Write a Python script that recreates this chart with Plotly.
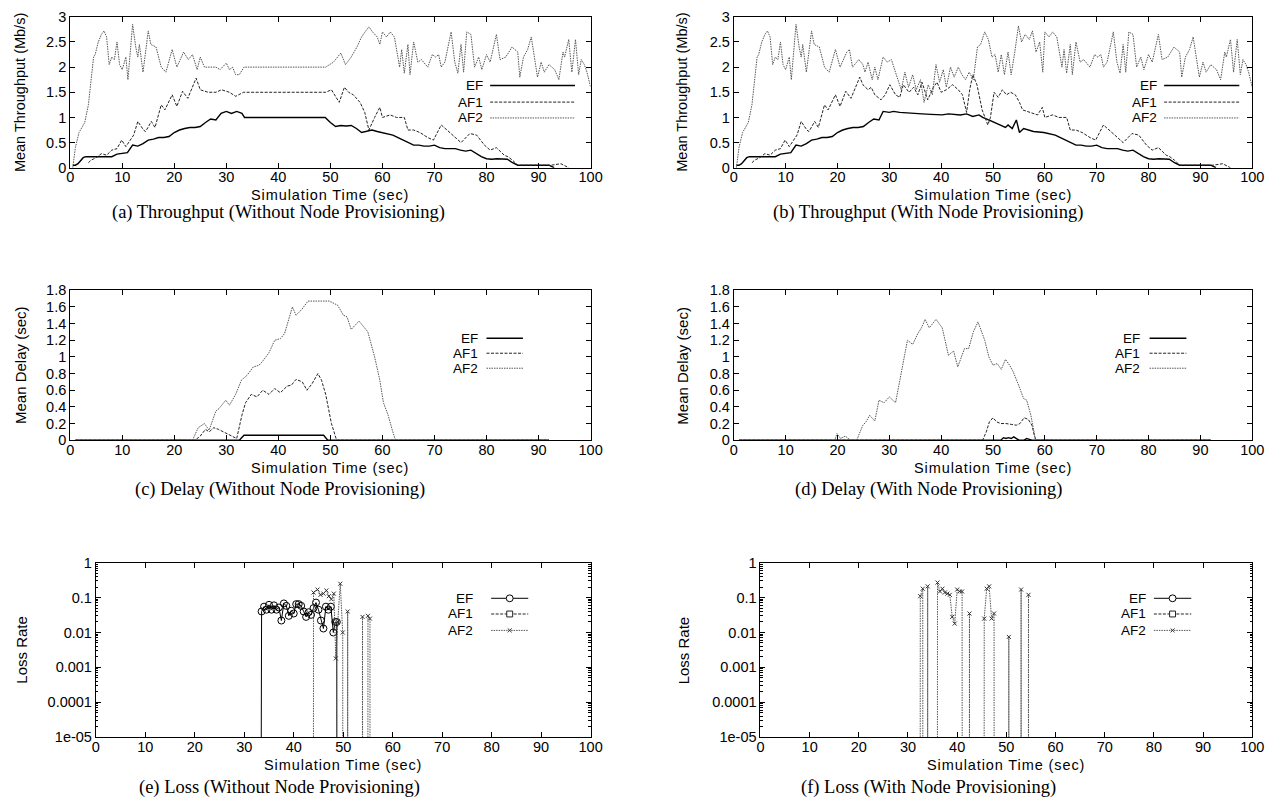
import plotly.graph_objects as go

W, H = 1284, 802

# ---------------- DATA ----------------
SERIES = ["EF", "AF1", "AF2"]
X_TICKS = list(range(0, 101, 10))
LOSS_TICKVALS = [1e-5, 1e-4, 1e-3, 1e-2, 1e-1, 1]
LOSS_TICKTEXT = ["1e-05", "0.0001", "0.001", "0.01", "0.1", "1"]

# (a) Throughput, without node provisioning  (time sec, Mb/s)
A_EF = [(0.5,0.05),(1,0.05),(1.5,0.08),(2,0.15),(2.5,0.2),(3,0.22),(4,0.22),(5,0.22),(6,0.22),(7,0.22),(8,0.22),
        (9,0.27),(10,0.28),(11,0.3),(12,0.45),(13,0.43),(14,0.48),(15,0.55),(16,0.57),(17,0.6),(18,0.6),(19,0.62),
        (20,0.7),(21,0.75),(22,0.78),(23,0.8),(24,0.8),(25,0.82),(26,0.9),(27,0.97),(28,0.95),(29,1.08),(30,1.12),
        (31,1.08),(32,1.12),(33,1.08),(33.5,1.0),(40,1.0),(49,1.0),(50,0.9),(51,0.82),(52,0.84),(53,0.83),(54,0.84),
        (55,0.78),(56,0.7),(57,0.72),(58,0.75),(59,0.72),(60,0.7),(61,0.68),(62,0.65),(63,0.6),(64,0.55),(65,0.5),
        (66,0.45),(67,0.45),(68,0.43),(69,0.43),(70,0.45),(71,0.4),(72,0.38),(73,0.38),(74,0.38),(75,0.35),(76,0.33),
        (77,0.35),(78,0.28),(79,0.22),(80,0.18),(81,0.17),(82,0.18),(83,0.18),(84,0.17),(85,0.1),(86,0.05),(87,0.05),
        (88,0.05),(89,0.05),(90,0.05),(91,0.05),(92,0.05),(93,0.0)]
A_AF1 = [(3.5,0.1),(4,0.15),(5,0.2),(6,0.28),(7,0.25),(8,0.35),(9,0.38),(9.9,0.55),(10.7,0.42),(12.2,0.65),(13,0.92),
         (14.1,0.75),(14.5,0.72),(15.6,0.92),(16.3,0.8),(17.5,1.25),(18.2,1.15),(19.6,1.45),(20.5,1.22),(21.6,1.52),
         (22.6,1.38),(23.1,1.5),(24.2,1.78),(25,1.55),(26.5,1.5),(28,1.5),(29.1,1.55),(30.6,1.5),(31.8,1.42),(33.3,1.5),
         (49.1,1.5),(50.2,1.55),(51.7,1.3),(52.7,1.6),(53.5,1.5),(54.4,1.45),(55.7,1.3),(56.6,1.1),(57.4,0.75),
         (58.5,1.0),(59.5,1.2),(60,1.0),(61.5,1.05),(62.7,1.0),(64.2,1.0),(64.9,0.75),(66,0.75),(67.2,0.7),(68.7,0.6),
         (69.8,0.55),(71.3,0.85),(72.4,0.75),(73.5,0.65),(75.1,0.5),(76.8,0.68),(78.1,0.65),(79.6,0.45),(80.7,0.35),
         (81.9,0.4),(83.4,0.25),(84.1,0.22),(85,0.15),(86,0.05),(88,0.05),(92.4,0.05),(94.3,0.08),(95,0.05),(95.8,0.0)]
A_AF2 = [(0.5,0.0),(1.0,0.4),(1.7,0.7),(2.8,0.9),(3.5,1.25),(4.5,2.2),(4.8,2.25),(5.4,2.5),(6.0,2.65),(6.5,2.72),
         (7.0,2.6),(7.5,2.05),(8.0,2.2),(8.5,2.15),(9.0,2.5),(9.5,2.05),(10.0,1.95),(10.7,2.2),(11.1,1.75),(12.0,2.85),
         (12.6,2.4),(13.0,2.2),(13.3,2.45),(14.0,1.9),(15.0,2.72),(15.5,2.45),(16.5,2.4),(17.5,2.0),(18.4,1.9),
         (19.6,2.35),(20.5,2.0),(21.8,2.3),(22.7,2.15),(23.5,2.25),(24.4,1.95),(25.0,2.2),(25.8,2.0),(27.0,2.0),
         (28.0,2.0),(28.8,1.95),(30.0,2.08),(30.6,1.95),(31.2,2.0),(31.8,1.85),(32.5,1.85),(33.4,2.0),(49.1,2.0),
         (50.6,2.1),(52.0,2.28),(52.9,2.05),(54.0,2.2),(55.1,2.4),(56.0,2.6),(56.8,2.72),(57.4,2.8),(58.1,2.7),
         (59.0,2.6),(59.5,2.45),(60.0,2.7),(60.8,2.6),(61.5,2.7),(62.3,2.6),(63.3,2.0),(63.7,2.35),(64.2,1.88),
         (64.9,2.45),(65.3,1.85),(66.0,2.5),(66.8,2.1),(67.5,2.15),(68.7,2.0),(69.6,2.25),(70.2,2.2),(70.8,2.25),
         (71.3,2.0),(72.0,2.1),(73.2,2.7),(73.9,2.1),(74.5,1.88),(75.1,2.45),(75.6,1.9),(76.2,2.7),(77.0,2.65),
         (77.7,2.0),(78.5,2.2),(79.1,1.95),(80.0,2.25),(80.7,2.1),(81.9,2.65),(82.6,2.15),(83.7,2.2),(84.9,2.4),
         (86.0,2.3),(86.4,1.8),(87.1,2.2),(87.9,2.35),(88.6,2.6),(89.2,2.2),(89.8,1.8),(90.5,2.1),(91.1,1.9),
         (92.0,2.05),(93.1,1.95),(93.9,1.75),(94.7,2.3),(95.0,2.2),(95.8,2.55),(96.4,1.9),(97.1,2.55),(97.7,1.85),
         (98.2,2.15),(98.8,2.05),(99.3,1.9),(100.0,1.6)]

# (b) Throughput, with node provisioning
B_EF = [(0.5,0.05),(1,0.05),(1.5,0.08),(2,0.15),(2.5,0.2),(3,0.22),(4,0.22),(5,0.22),(6,0.22),(7,0.22),(8,0.22),
        (9,0.27),(10,0.28),(11,0.3),(12,0.45),(13,0.43),(14,0.48),(15,0.55),(16,0.57),(17,0.6),(18,0.6),(19,0.62),
        (20,0.7),(21,0.75),(22,0.78),(23,0.8),(24,0.8),(25,0.82),(26,0.9),(27,0.97),(28,0.95),(28.8,1.12),(30,1.1),
        (30.8,1.12),(32,1.1),(34,1.08),(36.3,1.07),(38,1.06),(40.2,1.05),(41.4,1.07),(43.7,1.05),(44.9,1.07),
        (46.1,1.02),(47.3,1.05),(48,1.0),(49.6,0.93),(51.2,0.85),(52.4,0.8),(52.9,0.85),(53.7,0.78),(54.5,0.95),
        (55.1,0.7),(55.9,0.78),(57.8,0.72),(59.8,0.7),(61,0.68),(62,0.65),(63,0.6),(64,0.55),(65,0.5),
        (66,0.45),(67,0.45),(68,0.43),(69,0.43),(70,0.45),(71,0.4),(72,0.38),(73,0.38),(74,0.38),(75,0.35),(76,0.33),
        (77,0.35),(78,0.28),(79,0.22),(80,0.18),(81,0.17),(82,0.18),(83,0.18),(84,0.17),(85,0.1),(86,0.05),(87,0.05),
        (88,0.05),(89,0.05),(90,0.05),(91,0.05),(92,0.05),(93,0.0)]
B_AF1 = [(3.5,0.1),(4,0.15),(5,0.2),(6,0.28),(7,0.25),(8,0.35),(9,0.38),(9.9,0.55),(10.7,0.42),(12.2,0.65),(13,0.92),
         (14.1,0.75),(14.5,0.72),(15.6,0.92),(16.3,0.8),(17.5,1.25),(18.2,1.15),(19.6,1.45),(20.5,1.22),(21.6,1.52),
         (22.6,1.38),(23.1,1.5),(24.3,1.8),(24.9,1.65),(25.9,1.55),(26.5,1.6),(27.2,1.45),(28.4,1.35),(29.2,1.45),
         (30.1,1.65),(31.2,1.45),(32.0,1.4),(32.7,1.65),(33.8,1.5),(34.7,1.6),(35.5,1.45),(36.3,1.7),(37.4,1.35),
         (38.5,1.6),(39.2,1.7),(40.0,1.5),(41.0,1.55),(42.2,1.65),(43.3,1.55),(44.1,1.45),(44.9,1.1),(45.5,1.55),
         (46.1,1.85),(46.9,1.65),(47.9,1.15),(49.0,0.85),(49.5,1.0),(50.2,1.5),(51.0,1.4),(51.8,1.55),(52.6,1.45),
         (53.4,1.5),(54.3,1.45),(55.1,1.3),(55.7,1.15),(57.1,1.1),(58.6,1.05),(59.5,1.2),(60,1.0),(61.5,1.05),
         (62.7,1.0),(64.2,1.0),(64.9,0.75),(66,0.75),(67.2,0.7),(68.7,0.6),(69.8,0.55),(71.3,0.85),(72.4,0.75),
         (73.5,0.65),(75.1,0.5),(76.8,0.68),(78.1,0.65),(79.6,0.45),(80.7,0.35),(81.9,0.4),(83.4,0.25),(84.1,0.22),
         (85,0.15),(86,0.05),(88,0.05),(92.4,0.05),(94.3,0.08),(95,0.05),(95.8,0.0)]
B_AF2 = [(0.5,0.0),(1.0,0.4),(1.7,0.7),(2.8,0.9),(3.5,1.25),(4.5,2.2),(4.8,2.25),(5.4,2.5),(6.0,2.65),(6.5,2.72),
         (7.0,2.6),(7.5,2.05),(8.0,2.2),(8.5,2.15),(9.0,2.5),(9.5,2.05),(10.0,1.95),(10.7,2.2),(11.1,1.75),(12.0,2.85),
         (12.6,2.4),(13.0,2.2),(13.3,2.45),(14.0,1.9),(15.0,2.72),(15.5,2.45),(16.5,2.4),(17.5,2.0),(18.4,1.9),
         (19.6,2.35),(20.5,2.0),(21.8,2.3),(22.3,2.35),(22.9,2.0),(24.1,2.15),(24.9,2.05),(25.3,1.9),(25.9,2.1),
         (26.7,1.75),(27.2,2.0),(27.8,1.75),(28.8,2.2),(29.6,2.1),(30.4,2.15),(31.5,1.8),(32.3,1.55),(33.0,1.9),
         (33.7,1.6),(34.5,1.85),(35.2,1.55),(36.0,1.75),(36.7,1.3),(37.5,1.65),(38.3,1.45),(39.0,2.05),(39.7,1.7),
         (40.4,1.95),(41.0,1.6),(41.8,2.0),(42.5,1.8),(43.3,2.0),(44.0,1.85),(44.7,1.75),(45.4,1.9),(46.2,1.75),
         (47.0,2.4),(47.6,2.45),(48.4,2.7),(49.1,2.55),(49.8,2.2),(50.4,2.25),(51.0,1.9),(51.6,2.25),(52.2,1.85),
         (52.9,2.3),(53.5,1.85),(54.2,2.3),(54.9,2.82),(55.5,2.5),(56.2,2.65),(57.0,2.55),(57.6,2.72),(58.3,2.3),
         (59.0,2.5),(59.6,1.9),(60.0,2.7),(60.8,2.6),(61.5,2.7),(62.3,2.6),(63.3,2.0),(63.7,2.35),(64.2,1.88),
         (64.9,2.45),(65.3,1.85),(66.0,2.5),(66.8,2.1),(67.5,2.15),(68.7,2.0),(69.6,2.25),(70.2,2.2),(70.8,2.25),
         (71.3,2.0),(72.0,2.1),(73.2,2.7),(73.9,2.1),(74.5,1.88),(75.1,2.45),(75.6,1.9),(76.2,2.7),(77.0,2.65),
         (77.7,2.0),(78.5,2.2),(79.1,1.95),(80.0,2.25),(80.7,2.1),(81.9,2.65),(82.6,2.15),(83.7,2.2),(84.9,2.4),
         (86.0,2.3),(86.4,1.8),(87.1,2.2),(87.9,2.35),(88.6,2.6),(89.2,2.2),(89.8,1.8),(90.5,2.1),(91.1,1.9),
         (92.0,2.05),(93.1,1.95),(93.9,1.75),(94.7,2.3),(95.0,2.2),(95.8,2.55),(96.4,1.9),(97.1,2.55),(97.7,1.85),
         (98.2,2.15),(98.8,2.05),(99.3,1.9),(100.0,1.6)]

# (c) Delay, without node provisioning (sec)
C_EF = [(1,0),(32.5,0),(33.4,0.06),(48.7,0.06),(49.5,0),(92,0)]
C_AF1 = [(1,0),(24,0),(25,0.05),(26,0.13),(26.7,0.1),(27.6,0.15),(28.5,0.13),(29.5,0.1),(31,0.05),(32,0.02),
         (33,0.3),(33.7,0.45),(34.8,0.55),(35.9,0.52),(37,0.6),(38.2,0.55),(39.3,0.62),(40.4,0.57),(41.7,0.65),
         (42.5,0.66),(43.4,0.73),(44.6,0.7),(45.5,0.6),(46.5,0.68),(47.6,0.8),(48.3,0.72),(49.1,0.55),(50.2,0.2),
         (51.2,0.0),(92,0)]
C_AF2 = [(1,0),(19,0),(19.5,0.01),(20,0.0),(21,0.01),(22,0.005),(23.5,0.0),(24.6,0.15),(25.8,0.2),(26.7,0.12),
         (28.0,0.35),(28.6,0.38),(29.9,0.48),(30.6,0.42),(31.8,0.55),(32.9,0.72),(34.0,0.78),(35.2,0.88),(36.3,0.9),
         (37.0,0.95),(38.2,1.05),(39.3,1.2),(40.4,1.22),(41.2,1.28),(42.7,1.6),(43.4,1.5),(44.5,1.57),(45.7,1.67),
         (49.8,1.67),(51.4,1.62),(52.5,1.5),(53.2,1.48),(54.0,1.33),(55.5,1.43),(56.6,1.35),(57.2,1.3),(58.5,1.0),
         (59.5,0.72),(60.2,0.45),(61.1,0.3),(61.9,0.12),(62.5,0.0),(92,0)]

# (d) Delay, with node provisioning (sec)
D_EF = [(1,0),(51.5,0),(52,0.03),(52.5,0.02),(53,0.03),(53.5,0.02),(54,0.04),(54.5,0.02),(55,0),(56,0.0),
        (56.5,0.02),(57,0.01),(57.5,0),(92,0)]
D_AF1 = [(1,0),(48,0),(48.7,0.1),(49.3,0.22),(50,0.27),(50.7,0.22),(51.5,0.2),(52.5,0.2),(53.5,0.19),(54.5,0.18),
         (55.2,0.2),(56,0.27),(56.8,0.25),(57.5,0.18),(58,0.05),(58.3,0),(92,0)]
D_AF2 = [(1,0),(19.5,0),(19.9,0.08),(20.6,0.02),(21.5,0.05),(22.5,0.0),(23.7,0.0),(24.9,0.18),(25.5,0.22),
         (26.2,0.3),(27.2,0.23),(28,0.48),(29,0.45),(30,0.52),(31.2,0.45),(32.3,0.8),(33.5,1.2),(34.5,1.15),
         (35.5,1.28),(36.2,1.35),(36.9,1.45),(37.7,1.35),(39,1.45),(40.2,1.35),(41.4,1.02),(42.4,1.07),(43.2,0.88),
         (44.5,1.1),(45.3,1.1),(46.2,1.3),(47.1,1.42),(48.4,1.2),(49.2,1.0),(50,0.9),(50.8,0.92),(51.6,0.85),
         (52.4,0.97),(53.2,0.9),(53.9,0.82),(55,0.65),(55.9,0.5),(56.5,0.48),(57.3,0.3),(58.2,0.0),(92,0)]

# (e) Loss rate, without node provisioning (0 = no loss)
E_EF = [(33.0,0),(33.5,0.04),(34.0,0.055),(34.5,0.045),(35.0,0.062),(35.5,0.045),(36.0,0.06),(36.5,0.045),
        (37.0,0.052),(37.5,0.022),(38.0,0.068),(38.5,0.058),(39.0,0.03),(39.5,0.042),(40.0,0.035),(40.5,0.065),
        (41.0,0.065),(41.5,0.058),(42.0,0.04),(42.5,0.028),(43.0,0.038),(43.5,0.032),(44.0,0.05),(44.5,0.072),
        (45.0,0.045),(45.5,0.022),(46.0,0.013),(46.5,0.055),(47.0,0.045),(47.5,0.055),(48.0,0.01),(48.4,0.02),
        (48.7,0.02),(48.8,0)]
E_AF1 = [(44.0,0),(48.0,0),(52.0,0)]
E_AF2 = [(43.9,0),(44.0,0.14),(44.8,0.17),(45.4,0.12),(46.0,0.13),(46.6,0.16),(47.1,0.11),(47.6,0.09),(48.1,0.13),
         (48.5,0.0018),(48.9,0.02),(49.4,0.25),(49.9,0.01),(50.0,0),(50.8,0),(50.9,0.04),(51.0,0),(53.8,0),
         (53.9,0.028),(54.0,0),(54.9,0),(55.0,0.03),(55.4,0.025),(55.5,0)]

# (f) Loss rate, with node provisioning
F_EF = [(33.0,0),(40.0,0),(50.0,0)]
F_AF1 = [(33.0,0),(40.0,0),(50.0,0)]
F_AF2 = [(32.4,0),(32.5,0.11),(33.0,0.18),(33.1,0),(33.9,0),(34.0,0.21),(34.1,0),(35.9,0),(36.0,0.27),(36.5,0.15),
         (37.0,0.18),(37.5,0.14),(38.0,0.13),(38.5,0.12),(39.0,0.028),(39.5,0.018),(40.0,0.17),(40.5,0.15),
         (41.0,0.15),(41.1,0),(42.4,0),(42.5,0.035),(42.6,0),(45.4,0),(45.5,0.025),(46.0,0.18),(46.5,0.21),
         (47.0,0.025),(47.5,0.035),(47.6,0),(50.4,0),(50.5,0.0075),(50.6,0),(52.9,0),(53.0,0.17),(53.1,0),
         (54.4,0),(54.5,0.12),(54.6,0)]

CAPTIONS = ["(a) Throughput (Without Node Provisioning)", "(b) Throughput (With Node Provisioning)",
            "(c) Delay (Without Node Provisioning)", "(d) Delay (With Node Provisioning)",
            "(e) Loss (Without Node Provisioning)", "(f) Loss (With Node Provisioning)"]
Y_TITLES = ["Mean Throughput (Mb/s)", "Mean Throughput (Mb/s)", "Mean Delay (sec)", "Mean Delay (sec)",
            "Loss Rate", "Loss Rate"]
X_TITLE = "Simulation Time (sec)"

# ---------------- LAYOUT / STYLE ----------------
SANS = "Liberation Sans, Arial, Helvetica, sans-serif"
SERIF = "Liberation Serif, Times New Roman, serif"
FS_TICK = 14.5
FS_LEG = 13.5
YT_FS = [14.5, 14.5, 15, 15, 15, 15]
STYLE = {
    "EF": dict(color="black", width=1.4, dash="solid"),
    "AF1": dict(color="#222222", width=1.0, dash="3px,1.5px"),
    "AF2": dict(color="#555555", width=1.0, dash="1.5px,1px"),
}
MARKERS = {"EF": dict(symbol="circle-open", size=7, color="black", line=dict(width=1, color="black")),
           "AF1": dict(symbol="square-open", size=6, color="#222", line=dict(width=1, color="#222")),
           "AF2": dict(symbol="x-thin-open", size=4, color="#333", line=dict(width=1, color="#333"))}

# boxes: left, top, right, bottom (px)
BOXES = [(67, 9, 594, 163), (739, 9, 1264, 163), (67, 288, 594, 441), (739, 288, 1264, 441),
         (93, 566, 594, 744), (766, 566, 1264, 744)]
CAP_POS = [(278, 209), (936, 209), (279, 491), (936, 491), (279, 795), (936, 795)]
YT_X = [16, 687, 16, 687, 18, 689]
# legend: text right (frac x), sample start, sample end, row y fracs
LEG = [(0.795, 0.807, 0.97, [0.545, 0.435, 0.33]),
       (0.818, 0.83, 0.975, [0.545, 0.435, 0.33]),
       (0.786, 0.80, 0.87, [0.68, 0.58, 0.48]),
       (0.786, 0.802, 0.873, [0.68, 0.58, 0.48]),
       (0.765, 0.799, 0.874, [0.796, 0.706, 0.612]),
       (0.786, 0.80, 0.876, [0.796, 0.706, 0.612])]

panel_data = [
    (A_EF, A_AF1, A_AF2), (B_EF, B_AF1, B_AF2), (C_EF, C_AF1, C_AF2),
    (D_EF, D_AF1, D_AF2), (E_EF, E_AF1, E_AF2), (F_EF, F_AF1, F_AF2)]

def pxx(x): return x / W
def pyy(y): return 1 - y / H

fig = go.Figure()
layout = dict(width=W, height=H, margin=dict(l=0, r=0, t=0, b=0), paper_bgcolor="white",
              plot_bgcolor="white", showlegend=False)
annotations, shapes = [], []

for i, (box, series) in enumerate(zip(BOXES, panel_data)):
    n = i + 1
    sfx = "" if n == 1 else str(n)
    l, t, r, b = box
    is_loss = i >= 4
    axbase = dict(showline=True, linecolor="black", linewidth=1, mirror="ticks", ticks="inside",
                  ticklen=5, tickcolor="black", tickwidth=1, showgrid=False, zeroline=False,
                  tickfont=dict(family=SANS, size=FS_TICK, color="black"))
    layout["xaxis" + sfx] = dict(axbase, domain=[pxx(l), pxx(r)], range=[0, 100], tickvals=X_TICKS,
                                 anchor="y" + sfx, ticklabelstandoff=-4)
    if is_loss:
        ya = dict(axbase, type="log", range=[-5, 0], tickvals=LOSS_TICKVALS, ticktext=LOSS_TICKTEXT,
                  minor=dict(ticks="inside", ticklen=2.5, tickcolor="black", dtick="D1", showgrid=False))
    elif i < 2:
        ya = dict(axbase, range=[0, 3], dtick=0.5, tick0=0)
    else:
        ya = dict(axbase, range=[0, 1.8], dtick=0.2, tick0=0)
    ya.update(domain=[pyy(b), pyy(t)], anchor="x" + sfx)
    layout["yaxis" + sfx] = ya

    for name, pts in zip(SERIES, series):
        xs = [p[0] for p in pts]
        ys = [p[1] for p in pts]
        if is_loss:
            ys = [v if v > 0 else 1e-30 for v in ys]
        st = STYLE[name]
        tr = dict(x=xs, y=ys, xaxis="x" + sfx, yaxis="y" + sfx, name=name,
                  line=dict(color=st["color"], width=st["width"] if not is_loss else 1.0, dash=st["dash"]),
                  hoverinfo="skip")
        if is_loss:
            tr.update(mode="lines+markers", marker=MARKERS[name])
        else:
            tr.update(mode="lines")
        fig.add_trace(go.Scatter(**tr))

    # texts
    cx, cy = CAP_POS[i]
    annotations.append(dict(x=pxx(cx), y=pyy(cy), xref="paper", yref="paper", text=CAPTIONS[i],
                            showarrow=False, font=dict(family=SERIF, size=18.5, color="black"),
                            xanchor="center", yanchor="middle"))
    annotations.append(dict(x=pxx((l + r) / 2), y=pyy(b + 28), xref="paper", yref="paper",
                            text='<span style="letter-spacing:0.9px">' + X_TITLE + '</span>',
                            showarrow=False, font=dict(family=SANS, size=14.5, color="black"),
                            xanchor="center", yanchor="middle"))
    annotations.append(dict(x=pxx(YT_X[i]), y=pyy((t + b) / 2), xref="paper", yref="paper", text=Y_TITLES[i],
                            textangle=-90, showarrow=False, font=dict(family=SANS, size=YT_FS[i], color="black"),
                            xanchor="center", yanchor="middle"))
    # legend
    tx, s0, s1, rows = LEG[i]
    for name, fy in zip(SERIES, rows):
        ypx = b - fy * (b - t)
        txp = l + tx * (r - l)
        x0 = l + s0 * (r - l)
        x1 = l + s1 * (r - l)
        annotations.append(dict(x=pxx(txp), y=pyy(ypx), xref="paper", yref="paper", text=name,
                                showarrow=False, font=dict(family=SANS, size=FS_LEG, color="black"),
                                xanchor="right", yanchor="middle", borderpad=0))
        st = STYLE[name]
        shapes.append(dict(type="line", xref="paper", yref="paper", x0=pxx(x0), x1=pxx(x1), y0=pyy(ypx),
                           y1=pyy(ypx), line=dict(color=st["color"], width=st["width"] if not is_loss else 1.0,
                                                  dash=st["dash"])))
        if is_loss:
            mx = (x0 + x1) / 2
            if name == "EF":
                shapes.append(dict(type="circle", xref="paper", yref="paper", x0=pxx(mx - 3.5), x1=pxx(mx + 3.5),
                                   y0=pyy(ypx + 3.5), y1=pyy(ypx - 3.5), fillcolor="white",
                                   line=dict(color="black", width=1)))
            elif name == "AF1":
                shapes.append(dict(type="rect", xref="paper", yref="paper", x0=pxx(mx - 3), x1=pxx(mx + 3),
                                   y0=pyy(ypx + 3), y1=pyy(ypx - 3), fillcolor="white",
                                   line=dict(color="#222", width=1)))
            else:
                for dy in (-2, 2):
                    shapes.append(dict(type="line", xref="paper", yref="paper", x0=pxx(mx - 2), x1=pxx(mx + 2),
                                       y0=pyy(ypx - dy), y1=pyy(ypx + dy), line=dict(color="#333", width=1)))

layout["annotations"] = annotations
layout["shapes"] = shapes
fig.update_layout(**layout)
fig.write_html("out.html", config={"displayModeBar": False, "staticPlot": True},
               post_script="document.body.style.margin='0';document.body.style.overflow='hidden';")
